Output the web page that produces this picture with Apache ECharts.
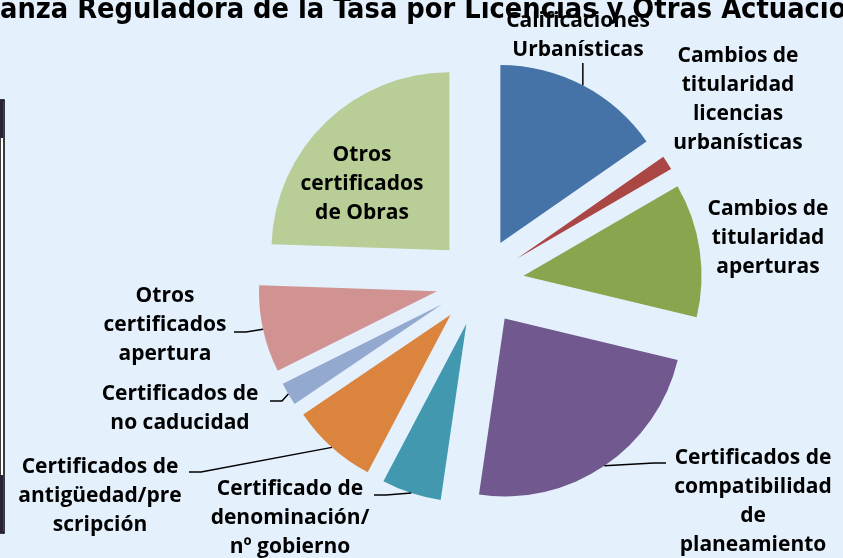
<!DOCTYPE html>
<html>
<head>
<meta charset="utf-8">
<script src="https://cdn.jsdelivr.net/npm/echarts@6/dist/echarts.min.js"></script>
<style>
  html, body { margin: 0; padding: 0; background: #E4F1FD; }
  #main { width: 843px; height: 558px; }
</style>
</head>
<body>
<div id="main"></div>
<script>
  // datos del gráfico (sentido horario desde las 12)
  var categories = [
    'Calificaciones\nUrbanísticas',
    'Cambios de\ntitularidad\nlicencias\nurbanísticas',
    'Cambios de\ntitularidad\naperturas',
    'Certificados de\ncompatibilidad\nde\nplaneamiento',
    'Certificado de\ndenominación/\nnº gobierno',
    'Certificados de\nantigüedad/pre\nscripción',
    'Certificados de\nno caducidad',
    'Otros\ncertificados\napertura',
    'Otros\ncertificados\nde Obras'
  ];
  var values = [15.3, 1.3, 12.1, 23.5, 5.4, 7.8, 2.1, 7.9, 24.4];
  var colors = ['#4572A7', '#AA4643', '#89A54E', '#71588F', '#4198AF',
                '#DB843D', '#93A9CF', '#D19392', '#B9CD96'];

  // posición de las etiquetas (centro del bloque) y final de las líneas guía
  var labelX = [578, 738, 768, 753, 290, 100, 180, 165, 362];
  var labelY = [36, 100, 238, 502, 518, 496, 409, 325, 184];
  var guiaFin = [[null, 63], null, null, [666, 463], [374, 495], [189, 472], [270, 401], [234, 332], null];

  var titulo = 'Ordenanza Reguladora de la Tasa por Licencias y Otras Actuaciones Urbanísticas';
  var familiaTitulo = '"Liberation Sans Narrow", "DejaVu Sans Condensed", "Roboto", sans-serif';
  var fuenteEtiqueta = 'bold 21px "Open Sans"';
  var offset = 44;

  // ajustar el título para que se vea "anza ... Actuacio" de borde a borde
  var ctx = document.createElement('canvas').getContext('2d');
  ctx.font = 'bold 30px ' + familiaTitulo;
  var escala = 846 / ctx.measureText('anza Reguladora de la Tasa por Licencias y Otras Actuacio').width;
  var tamTitulo = Math.round(30 * escala * 10) / 10;
  var fuenteTitulo = 'bold ' + tamTitulo + 'px ' + familiaTitulo;
  ctx.font = fuenteTitulo;
  var offX = ctx.measureText('Orden').width;

  var myChart = echarts.init(document.getElementById('main'));

  var option = {
    backgroundColor: '#E4F1FD',
    animation: false,
    series: [
      {
        type: 'pie',
        center: [480, 282],
        radius: 178,
        startAngle: 90,
        clockwise: true,
        selectedMode: 'multiple',
        selectedOffset: offset,
        label: { show: false },
        labelLine: { show: false },
        emphasis: { disabled: true },
        data: categories.map(function (c, i) {
          return { name: c, value: values[i], selected: true, itemStyle: { color: colors[i] } };
        })
      }
    ]
  };
  myChart.setOption(option);

  // etiquetas y líneas guía a partir del diseño calculado por ECharts
  var datos = myChart.getModel().getSeriesByIndex(0).getData();
  var graficos = [
    { type: 'text', x: -offX, y: 25, z: 100,
      style: { text: titulo, font: fuenteTitulo, fill: '#000', verticalAlign: 'bottom' } },
    { type: 'rect', z: 100, shape: { x: 0, y: 100, width: 4, height: 433 },
      style: { fill: '#ffffff', stroke: '#000', lineWidth: 1.5 } },
    { type: 'rect', z: 101, shape: { x: 0, y: 100, width: 3, height: 38 }, style: { fill: '#2B2138' } },
    { type: 'rect', z: 101, shape: { x: 0, y: 475, width: 3, height: 58 }, style: { fill: '#2B2138' } }
  ];
  categories.forEach(function (c, i) {
    var l = datos.getItemLayout(i);
    var mid = (l.startAngle + l.endAngle) / 2;
    var ax = l.cx + (l.r + offset) * Math.cos(mid);
    var ay = l.cy + (l.r + offset) * Math.sin(mid);
    var fin = guiaFin[i];
    if (fin) {
      var pts;
      if (fin[0] === null) {
        pts = [[ax, ay], [ax, fin[1]]];
      } else {
        var s = ax > fin[0] ? 12 : -12;
        pts = [[ax, ay], [fin[0] + s, fin[1]], fin];
      }
      graficos.push({ type: 'polyline', z: 100, shape: { points: pts },
        style: { stroke: '#000', lineWidth: 1.5, fill: null } });
    }
    graficos.push({ type: 'text', z: 102, x: labelX[i], y: labelY[i],
      style: { text: c, font: fuenteEtiqueta, fill: '#000', align: 'center',
               verticalAlign: 'middle', lineHeight: 29 } });
  });
  myChart.setOption({ graphic: graficos });
</script>
</body>
</html>
